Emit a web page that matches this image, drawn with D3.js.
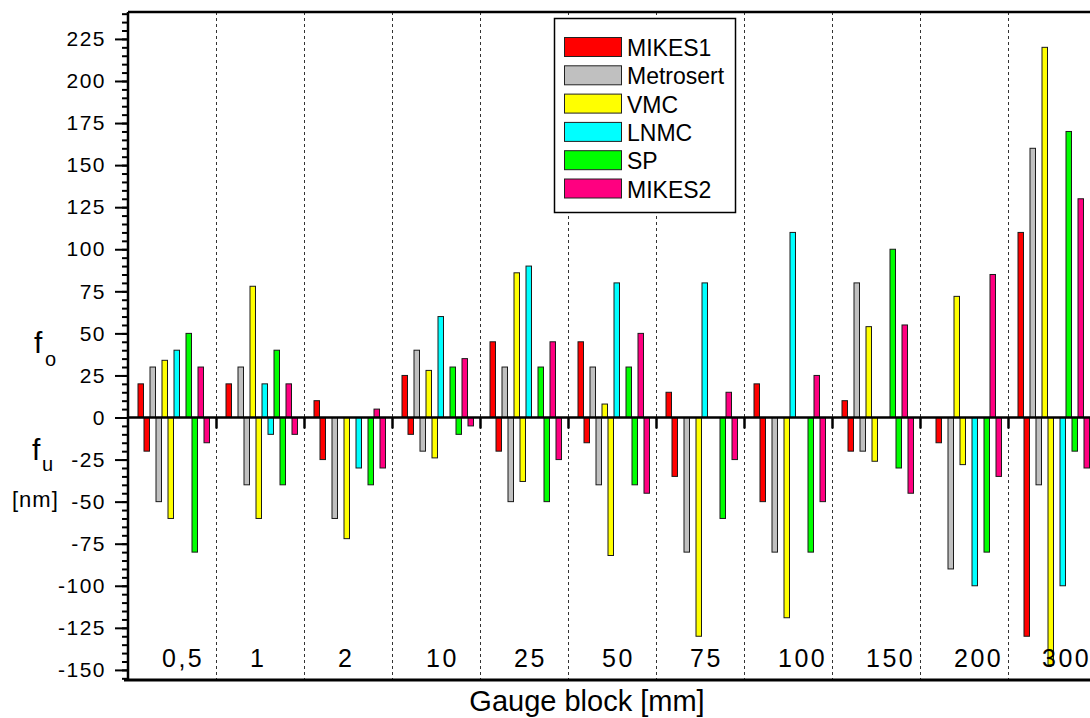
<!DOCTYPE html>
<html>
<head>
<meta charset="utf-8">
<script src="https://cdn.jsdelivr.net/npm/d3@7"></script>
<style>
  html, body { margin: 0; padding: 0; background: #fff; }
  svg { display: block; font-family: "Liberation Sans", Arial, sans-serif; }
</style>
</head>
<body>
<svg id="chart" width="1090" height="718"></svg>
<script>
// ---- data ----
const categories = ["0,5", "1", "2", "10", "25", "50", "75", "100", "150", "200", "300"];
const seriesNames = ["MIKES1", "Metrosert", "VMC", "LNMC", "SP", "MIKES2"];
const seriesColors = ["#ff0000", "#c0c0c0", "#ffff00", "#00ffff", "#00ff00", "#ff0080"];

// upper deviation f_o and lower deviation f_u [nm], per series, per gauge block
const mikes1Upper    = [20, 20, 10, 25, 45, 45, 15, 20, 10, 0, 110];
const mikes1Lower    = [-20, 0, -25, -10, -20, -15, -35, -50, -20, -15, -130];
const metrosertUpper = [30, 30, 0, 40, 30, 30, 0, 0, 80, 0, 160];
const metrosertLower = [-50, -40, -60, -20, -50, -40, -80, -80, -20, -90, -40];
const vmcUpper       = [34, 78, 0, 28, 86, 8, 0, 0, 54, 72, 220];
const vmcLower       = [-60, -60, -72, -24, -38, -82, -130, -119, -26, -28, -147];
const lnmcUpper      = [40, 20, 0, 60, 90, 80, 80, 110, 0, 0, 0];
const lnmcLower      = [0, -10, -30, 0, 0, 0, 0, 0, 0, -100, -100];
const spUpper        = [50, 40, 0, 30, 30, 30, 0, 0, 100, 0, 170];
const spLower        = [-80, -40, -40, -10, -50, -40, -60, -80, -30, -80, -20];
const mikes2Upper    = [30, 20, 5, 35, 45, 50, 15, 25, 55, 85, 130];
const mikes2Lower    = [-15, -10, -30, -5, -25, -45, -25, -50, -45, -35, -30];

const upperSeries = [mikes1Upper, metrosertUpper, vmcUpper, lnmcUpper, spUpper, mikes2Upper];
const lowerSeries = [mikes1Lower, metrosertLower, vmcLower, lnmcLower, spLower, mikes2Lower];

const yMajorTicks = d3.range(-150, 226, 25);
const yMinorTicks = d3.range(-155, 241, 5);

// ---- layout ----
const W = 1090, H = 718;
const plotLeft = 128, plotTop = 12, plotBottom = 680, groupW = 88;

const svg = d3.select("#chart");
svg.append("rect").attr("width", W).attr("height", H).attr("fill", "#fff");

const x0 = d3.scaleBand().domain(categories)
  .range([plotLeft, plotLeft + groupW * categories.length]).paddingInner(0).paddingOuter(0);
const slots = d3.range(12);
const x1 = d3.scaleBand().domain(slots).range([9.5, 81.5]);
const y = d3.scaleLinear().domain([-156, 241]).range([plotBottom, plotTop]);

// build bar records
const bars = [];
categories.forEach((c, ci) => {
  seriesNames.forEach((s, si) => {
    bars.push({cat: c, slot: si * 2, value: upperSeries[si][ci], color: seriesColors[si]});
    bars.push({cat: c, slot: si * 2 + 1, value: lowerSeries[si][ci], color: seriesColors[si]});
  });
});

// dashed separators
const seps = categories.slice(1);
svg.append("g").selectAll("line").data(seps).enter().append("line")
  .attr("x1", d => x0(d) + 0.5).attr("x2", d => x0(d) + 0.5)
  .attr("y1", plotTop).attr("y2", plotBottom)
  .attr("stroke", "#333").attr("stroke-width", 1).attr("stroke-dasharray", "3,3");

// bars
svg.append("g").selectAll("rect").data(bars.filter(d => d.value !== 0)).enter().append("rect")
  .attr("x", d => x0(d.cat) + x1(d.slot) + 0.5)
  .attr("width", x1.bandwidth() - 0.5)
  .attr("y", d => Math.min(y(d.value), y(0)))
  .attr("height", d => Math.abs(y(d.value) - y(0)))
  .attr("fill", d => d.color)
  .attr("stroke", "#1a1a1a").attr("stroke-width", 1);

// zero line
svg.append("line").attr("x1", plotLeft).attr("x2", W).attr("y1", y(0)).attr("y2", y(0))
  .attr("stroke", "#000").attr("stroke-width", 2.5);

// small ticks on zero line at separators
svg.append("g").selectAll("line").data(seps).enter().append("line")
  .attr("x1", d => x0(d) + 0.5).attr("x2", d => x0(d) + 0.5)
  .attr("y1", y(0)).attr("y2", y(0) + 11)
  .attr("stroke", "#000").attr("stroke-width", 2.5);

// category labels
svg.append("g").selectAll("text").data(categories).enter().append("text")
  .attr("x", d => x0(d) + 34).attr("y", 667)
  .attr("font-size", 25).attr("letter-spacing", 2.5).attr("fill", "#000")
  .text(d => d);

// top border
svg.append("line").attr("x1", plotLeft).attr("x2", W).attr("y1", plotTop).attr("y2", plotTop)
  .attr("stroke", "#000").attr("stroke-width", 2.5);
// bottom axis
svg.append("line").attr("x1", plotLeft - 4).attr("x2", W).attr("y1", plotBottom).attr("y2", plotBottom)
  .attr("stroke", "#000").attr("stroke-width", 3);

// y axis minor
const yMinor = d3.axisLeft(y).tickValues(yMinorTicks).tickSize(6).tickFormat("");
const gMinor = svg.append("g").attr("transform", `translate(${plotLeft},0)`).call(yMinor);
gMinor.select(".domain").remove();
gMinor.selectAll("line").attr("stroke", "#000").attr("stroke-width", 2);

// y axis major
const yMajor = d3.axisLeft(y).tickValues(yMajorTicks).tickSize(13).tickPadding(9)
  .tickFormat(d => String(d));
const gMajor = svg.append("g").attr("transform", `translate(${plotLeft},0)`).call(yMajor);
gMajor.select(".domain").attr("d", `M0,${plotTop}V${plotBottom}`).attr("stroke", "#000").attr("stroke-width", 2.5);
gMajor.selectAll("line").attr("stroke", "#000").attr("stroke-width", 2);
gMajor.selectAll("text").attr("font-size", 21).attr("letter-spacing", 1.5)
  .attr("font-family", "'Liberation Sans', Arial, sans-serif").attr("fill", "#000");

// y axis label
const yl = svg.append("g").attr("fill", "#000");
yl.append("text").attr("x", 34).attr("y", 353).attr("font-size", 30).text("f");
yl.append("text").attr("x", 45).attr("y", 366).attr("font-size", 20).text("o");
yl.append("text").attr("x", 32).attr("y", 460).attr("font-size", 30).text("f");
yl.append("text").attr("x", 42).attr("y", 471).attr("font-size", 20).text("u");
yl.append("text").attr("x", 12).attr("y", 507).attr("font-size", 22).attr("letter-spacing", 1).text("[nm]");

// x axis title
svg.append("text").attr("x", 587).attr("y", 711).attr("text-anchor", "middle")
  .attr("font-size", 29).attr("fill", "#000").text("Gauge block [mm]");

// legend
const lg = svg.append("g");
lg.append("rect").attr("x", 554.5).attr("y", 18.5).attr("width", 181).attr("height", 194)
  .attr("fill", "#fff").attr("stroke", "#000").attr("stroke-width", 1.5);
const rowH = 28.3;
const items = lg.selectAll("g.item").data(seriesNames).enter().append("g")
  .attr("transform", (d, i) => `translate(0,${i * rowH})`);
items.append("rect").attr("x", 564.5).attr("y", 37.5).attr("width", 57).attr("height", 19)
  .attr("fill", (d, i) => seriesColors[i]).attr("stroke", "#222").attr("stroke-width", 1);
items.append("text").attr("x", 627).attr("y", 56).attr("font-size", 23).attr("fill", "#000")
  .text(d => d);
</script>
</body>
</html>
